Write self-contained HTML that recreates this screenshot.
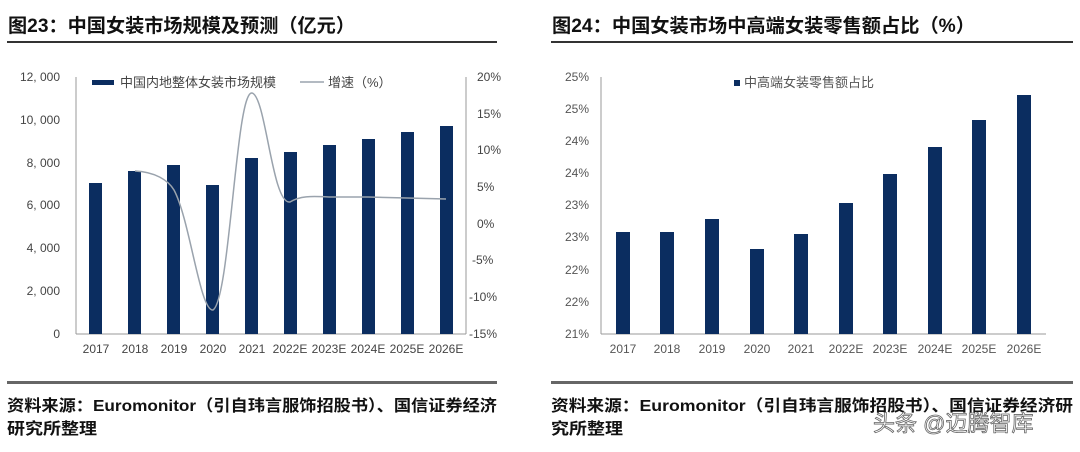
<!DOCTYPE html>
<html><head><meta charset="utf-8"><style>
body{margin:0;background:#fff;width:1080px;height:447px;overflow:hidden;font-family:"Liberation Sans","Noto Sans CJK SC",sans-serif}
</style></head><body>
<svg width="1080" height="447" xmlns="http://www.w3.org/2000/svg" font-family="Liberation Sans, Noto Sans CJK SC, sans-serif">
<text x="8" y="32" font-size="19" font-weight="bold" fill="#111" textLength="347" lengthAdjust="spacingAndGlyphs">图23：中国女装市场规模及预测（亿元）</text>
<text x="552" y="32" font-size="19" font-weight="bold" fill="#111" textLength="423" lengthAdjust="spacingAndGlyphs">图24：中国女装市场中高端女装零售额占比（%）</text>
<rect x="7" y="41" width="490" height="2" fill="#333"/>
<rect x="551" y="41" width="522" height="2" fill="#333"/>
<rect x="7" y="381" width="490" height="3" fill="#666"/>
<rect x="551" y="381" width="522" height="3" fill="#666"/>
<g font-size="16" font-weight="bold" fill="#111">
<text x="7" y="411" textLength="490" lengthAdjust="spacingAndGlyphs">资料来源：Euromonitor（引自玮言服饰招股书）、国信证券经济</text>
<text x="7" y="434" textLength="90" lengthAdjust="spacingAndGlyphs">研究所整理</text>
<text x="551" y="411" textLength="522" lengthAdjust="spacingAndGlyphs">资料来源：Euromonitor（引自玮言服饰招股书）、国信证券经济研</text>
<text x="551" y="434" textLength="72" lengthAdjust="spacingAndGlyphs">究所整理</text>
</g>
<text x="873" y="431" font-size="22" fill="#fff" stroke="#666" stroke-width="0.8">头条 @迈腾智库</text>

<!-- left chart -->
<g font-size="12" fill="#444">
<line x1="76" y1="77" x2="76" y2="334" stroke="#999"/>
<line x1="76" y1="334" x2="466" y2="334" stroke="#999"/>
<line x1="466" y1="77" x2="466" y2="334" stroke="#999"/>
<g text-anchor="end">
<text x="60" y="81">12, 000</text><text x="60" y="124">10, 000</text><text x="60" y="167">8, 000</text>
<text x="60" y="209">6, 000</text><text x="60" y="252">4, 000</text><text x="60" y="295">2, 000</text><text x="60" y="338">0</text>
</g>
<g>
<text x="477" y="81">20%</text><text x="477" y="118">15%</text><text x="477" y="154">10%</text><text x="477" y="191">5%</text>
<text x="477" y="228">0%</text><text x="472" y="264">-5%</text><text x="469" y="301">-10%</text><text x="469" y="338">-15%</text>
</g>
<g fill="#0b2d60">
<rect x="89" y="183" width="13" height="151"/><rect x="128" y="171" width="13" height="163"/>
<rect x="167" y="165" width="13" height="169"/><rect x="206" y="185" width="13" height="149"/>
<rect x="245" y="158" width="13" height="176"/><rect x="284" y="152" width="13" height="182"/>
<rect x="323" y="145" width="13" height="189"/><rect x="362" y="139" width="13" height="195"/>
<rect x="401" y="132" width="13" height="202"/><rect x="440" y="126" width="13" height="208"/>
</g>
<path d="M135,171 C155,172 168,180 174,190 C190,220 200,312 213,310 C230,300 236,90 252,93 C266,96 272,205 290,202 C300,196 310,196 329,197 L368,197 L407,198 L446,199" fill="none" stroke="#9aa3ad" stroke-width="1.5"/>
<g text-anchor="middle">
<text x="96" y="353">2017</text><text x="135" y="353">2018</text><text x="174" y="353">2019</text><text x="213" y="353">2020</text>
<text x="252" y="353">2021</text><text x="290" y="353">2022E</text><text x="329" y="353">2023E</text><text x="368" y="353">2024E</text>
<text x="407" y="353">2025E</text><text x="446" y="353">2026E</text>
</g>
<rect x="92" y="80" width="22" height="5" fill="#0b2d60"/>
<text x="120" y="87" font-size="13">中国内地整体女装市场规模</text>
<line x1="300" y1="82" x2="324" y2="82" stroke="#9aa3ad" stroke-width="1.5"/>
<text x="328" y="87" font-size="13">增速（%）</text>
</g>

<!-- right chart -->
<g font-size="12" fill="#555">
<line x1="601" y1="77" x2="601" y2="334" stroke="#999"/>
<line x1="601" y1="334" x2="1046" y2="334" stroke="#999"/>
<g text-anchor="end">
<text x="589" y="81">25%</text><text x="589" y="113">25%</text><text x="589" y="145">24%</text><text x="589" y="177">24%</text>
<text x="589" y="209">23%</text><text x="589" y="241">23%</text><text x="589" y="274">22%</text><text x="589" y="306">22%</text><text x="589" y="338">21%</text>
</g>
<g fill="#0b2d60">
<rect x="616" y="232" width="14" height="102"/><rect x="660" y="232" width="14" height="102"/>
<rect x="705" y="219" width="14" height="115"/><rect x="750" y="249" width="14" height="85"/>
<rect x="794" y="234" width="14" height="100"/><rect x="839" y="203" width="14" height="131"/>
<rect x="883" y="174" width="14" height="160"/><rect x="928" y="147" width="14" height="187"/>
<rect x="972" y="120" width="14" height="214"/><rect x="1017" y="95" width="14" height="239"/>
</g>
<g text-anchor="middle">
<text x="623" y="353">2017</text><text x="667" y="353">2018</text><text x="712" y="353">2019</text><text x="757" y="353">2020</text>
<text x="801" y="353">2021</text><text x="846" y="353">2022E</text><text x="890" y="353">2023E</text><text x="935" y="353">2024E</text>
<text x="979" y="353">2025E</text><text x="1024" y="353">2026E</text>
</g>
<rect x="734" y="80" width="6" height="6" fill="#0b2d60"/>
<text x="744" y="87" font-size="13">中高端女装零售额占比</text>
</g>
</svg>
</body></html>
